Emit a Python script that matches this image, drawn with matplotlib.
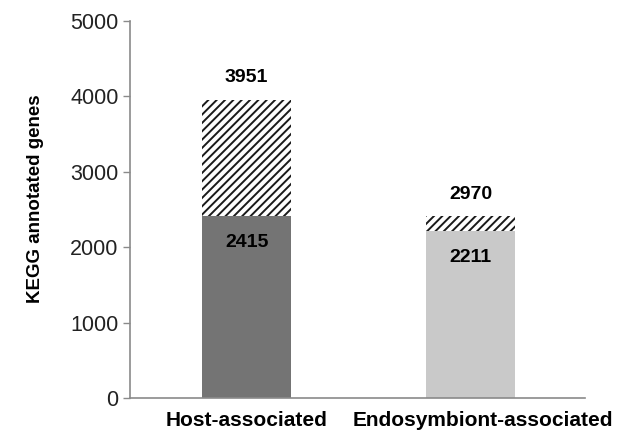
import numpy as np
import matplotlib
matplotlib.use("Agg")
import matplotlib.pyplot as plt
import matplotlib.transforms as mtransforms

plt.rcParams.update({
    "font.family": ["Liberation Sans", "DejaVu Sans"],
    "hatch.linewidth": 1.4,
    "hatch.color": "#1a1a1a",
})

# data
categories = ["Host-associated", "Endosymbiont-associated"]
solid_vals = [2415, 2211]          # filled part of each bar
hatched_top = [3951, 2410]         # top of the hatched part as drawn
total_labels = [3951, 2970]        # numbers printed above the bars
solid_colors = ["#747474", "#c9c9c9"]

fig = plt.figure(figsize=(6.17, 4.38), dpi=100)
ax = fig.add_axes([0.211, 0.091, 0.737, 0.861])

x = np.arange(len(categories))
w = 0.4
ax.bar(x, solid_vals, width=w, color=solid_colors, linewidth=0, zorder=2)
ax.bar(x, np.array(hatched_top) - np.array(solid_vals), width=w,
       bottom=solid_vals, color="white", hatch="////", linewidth=0, zorder=2)

for xi, s, top, lab in zip(x, solid_vals, hatched_top, total_labels):
    ax.annotate(f"{lab}", xy=(xi, top), xytext=(0, 16), textcoords="offset points",
                ha="center", va="center", fontsize=14, fontweight="bold")
    ax.annotate(f"{s}", xy=(xi, s), xytext=(0, -19), textcoords="offset points",
                ha="center", va="center", fontsize=14, fontweight="bold")

ax.set_xlim(-0.52, 1.51)
ax.set_ylim(0, 5000)
ax.set_yticks(range(0, 5001, 1000))
ax.set_xticks(x)
ax.set_xticklabels(categories, fontsize=15, fontweight="bold")
ax.tick_params(axis="x", length=0, pad=9)
ax.tick_params(axis="y", length=5, width=1, color="#8a8a8a", labelsize=15.5,
               labelcolor="#222222", pad=3.5)

# second category label sits a little right of its bar in the original
lbl = ax.get_xticklabels()[1]
lbl.set_transform(lbl.get_transform() +
                  mtransforms.ScaledTranslation(0.12, 0, fig.dpi_scale_trans))

ax.set_ylabel("KEGG annotated genes", fontsize=13.5, fontweight="bold")
ax.yaxis.set_label_coords(-0.19, 0.53)

for side in ["top", "right"]:
    ax.spines[side].set_visible(False)
for side in ["left", "bottom"]:
    ax.spines[side].set_color("#8a8a8a")
    ax.spines[side].set_linewidth(1.2)

fig.savefig("out.png", dpi=100)
